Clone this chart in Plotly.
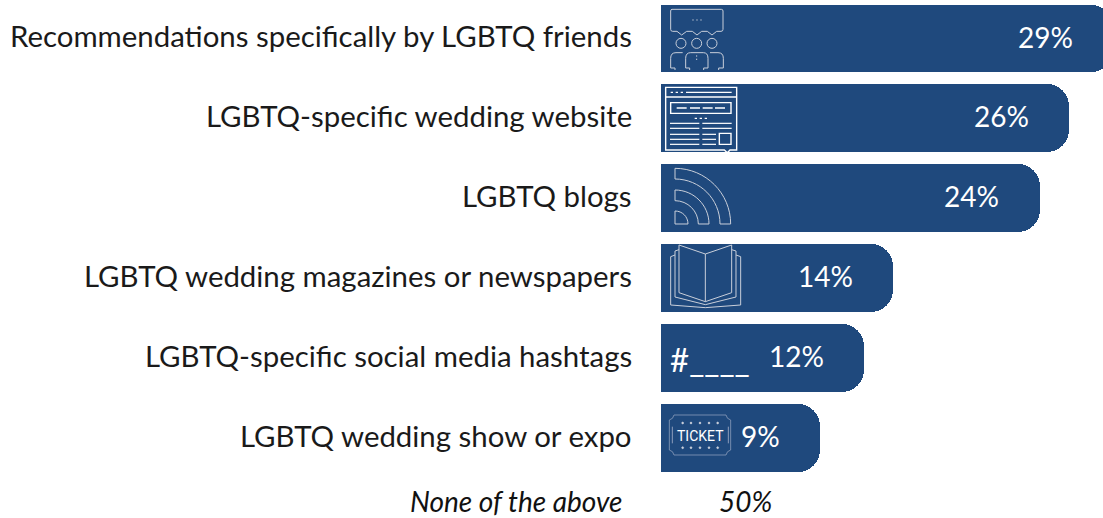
import re
import plotly.graph_objects as go

categories = ["Recommendations specifically by LGBTQ friends", "LGBTQ-specific wedding website",
              "LGBTQ blogs", "LGBTQ wedding magazines or newspapers",
              "LGBTQ-specific social media hashtags", "LGBTQ wedding show or expo"]
values = [29, 26, 24, 14, 12, 9]
none_label = "None of the above"
none_value = 50

W, H = 1103, 518
FONT = "Lato"
BAR = "#1F497D"
OFFSET = 1.84  # the source bars start a little before their zero


def px_path(d, ox=0, oy=0, k=1.0):
    toks = re.findall(r"[MLCQZ]|-?\d+\.?\d*", d)
    out, is_x = [], True
    for t in toks:
        if t in "MLCQZ":
            out.append(t)
            is_x = True
        elif is_x:
            out.append(f"{(ox + float(t) * k) / W:.5f}")
            is_x = False
        else:
            out.append(f"{1 - (oy + float(t) * k) / H:.5f}")
            is_x = True
    s = ""
    for o in out:
        s += o if o in "MLCQZ" else o + " "
    return s


shapes = []


def add(d, ox, oy, color="#FFFFFF", width=1.0, fill=None):
    sh = dict(type="path", xref="paper", yref="paper", path=px_path(d, ox, oy, 1 / 3),
              line=dict(color=color, width=width))
    if fill:
        sh["fillcolor"] = fill
    shapes.append(sh)


def circle(cx, cy, r):
    c = 0.5523 * r
    return (f"M{cx - r} {cy} C{cx - r} {cy - c} {cx - c} {cy - r} {cx} {cy - r} "
            f"C{cx + c} {cy - r} {cx + r} {cy - c} {cx + r} {cy} "
            f"C{cx + r} {cy + c} {cx + c} {cy + r} {cx} {cy + r} "
            f"C{cx - c} {cy + r} {cx - r} {cy + c} {cx - r} {cy} Z")


# --- icon: people with a speech box
G = "#C9CFDA"
add("M66 28 L214 28 Q219 28 219 33 L219 88 Q219 94 213 94 L200 94 L186 105 L172 94 L155 94 L141 105 L127 94 "
    "L110 94 L95 105 L81 94 L68 94 Q62 94 62 88 L62 33 Q62 28 66 28 Z", 650, 0, G)
for cx in (93, 140, 186):
    add(circle(cx, 130, 15), 650, 0, G)
add("M127 60 L131 60 M139 60 L143 60 M151 60 L155 60", 650, 0, G)
add("M98 158 L78 158 Q62 158 62 175 L62 204 L75 204 L75 210", 650, 0, G)
add("M180 158 L204 158 Q220 158 220 175 L220 204 L206 204 L206 210", 650, 0, G)
add("M119 210 L119 204 L107 204 L107 175 Q107 158 122 158 L160 158 Q174 158 174 175 L174 204 L161 204 L161 210", 650, 0, G)
add("M140 166 L140 170 M140 176 L140 180", 650, 0, G)

# --- icon: website
add("M47 262 L260 262 L260 450 L240 450 L232 458 L223 450 L47 450 Z", 650, 0, width=1.4)
add("M47 291 L260 291", 650, 0, width=1.4)
add("M62 277 L69 277 M77 277 L84 277 M92 277 L99 277 M108 277 L245 277", 650, 0, width=1.4)
add("M62 308 L243 308 L243 340 L62 340 Z", 650, 0, width=1.4)
add("M80 324 L110 324 M120 324 L150 324 M158 324 L188 324 M195 324 L225 324", 650, 0, width=1.4)
add("M134 355 L141 355 M149 355 L156 355 M164 355 L171 355", 650, 0, width=1.4)
for y in (370, 385, 403, 418, 433):
    add(f"M60 {y} L148 {y}", 650, 0, width=1.2)
for y in (370, 385):
    add(f"M157 {y} L245 {y}", 650, 0, width=1.2)
for y in (403, 418, 433):
    add(f"M157 {y} L198 {y}", 650, 0, width=1.2)
add("M208 400 L243 400 L243 433 L208 433 Z", 650, 0, width=1.4)


# --- icon: RSS waves
def band(ro, ri, cx=75, cy=672):
    ko, ki = 0.5523 * ro, 0.5523 * ri
    return (f"M{cx} {cy - ro} C{cx + ko} {cy - ro} {cx + ro} {cy - ko} {cx + ro} {cy} "
            f"L{cx + ri} {cy} C{cx + ri} {cy - ki} {cx + ki} {cy - ri} {cx} {cy - ri} Z")


add(band(167, 135), 650, 0, G)
add(band(102, 70), 650, 0, G)
add("M75 633 C97 633 114 650 114 672 L75 672 Z", 650, 0, G)

# --- icon: open book
add("M87 15 L166 42 L245 15 L245 158 L166 185 L87 158 Z", 650, 240, G)
add("M166 42 L166 185", 650, 240, G)
add("M87 29 L75 33 L75 171 L166 194 L258 171 L258 33 L245 29", 650, 240, G)
add("M75 45 L62 50 L62 195 L166 203 L272 195 L272 50 L258 45", 650, 240, G)

# --- icon: ticket
T = "#8C9DBB"
add("M72 525 L228 525 Q230 537 242 540 L242 630 Q230 633 228 645 L72 645 Q70 633 58 630 L58 540 Q70 537 72 525 Z",
    650, 240, T, 0.8)
add("M67 560 L67 610 M235 560 L235 610", 650, 240, T, 1.0)
for y in (549, 623):
    for x in (98, 123, 150, 177, 203):
        add(circle(x, y, 3), 650, 240, "#C9CFDA", 0.5, fill="#C9CFDA")

fig = go.Figure()
fig.add_bar(y=categories, x=[v + OFFSET for v in values], orientation="h",
            width=0.85, marker=dict(color=BAR, cornerradius=22, line=dict(width=0)),
            hoverinfo="skip", showlegend=False)

annotations = []
for c, v in zip(categories, values):
    annotations.append(dict(x=v - 0.76, y=c, xref="x", yref="y", text=f"{v}%", showarrow=False,
                            xanchor="right", yanchor="middle", yshift=2,
                            font=dict(family=FONT, size=28, color="white")))
    annotations.append(dict(x=633 / W, y=c, xref="paper", yref="y", text=c, showarrow=False,
                            xanchor="right", yanchor="middle", yshift=3, borderpad=0,
                            font=dict(family=FONT, size=29.4, color="#1a1a1a")))
annotations += [
    dict(x=624 / W, y=1 - 501 / H, xref="paper", yref="paper", text=f"<i>{none_label}</i>", showarrow=False,
         xanchor="right", yanchor="middle", font=dict(family=FONT, size=28, color="#111111")),
    dict(x=745 / W, y=1 - 501 / H, xref="paper", yref="paper", text=f"<i>{none_value}%</i>", showarrow=False,
         xanchor="center", yanchor="middle", font=dict(family=FONT, size=28, color="#111111")),
    dict(x=668 / W, y=1 - 359 / H, xref="paper", yref="paper", text="#____", showarrow=False,
         xanchor="left", yanchor="middle", font=dict(family=FONT, size=33, color="white")),
    dict(x=700 / W, y=1 - 436 / H, xref="paper", yref="paper", text="TICKET", showarrow=False,
         xanchor="center", yanchor="middle",
         font=dict(family="Liberation Sans Narrow, Roboto", size=14, color="white")),
]

fig.update_layout(
    width=W, height=H, margin=dict(l=0, r=0, t=0, b=0), paper_bgcolor="white", plot_bgcolor="white",
    bargap=0, showlegend=False, shapes=shapes, annotations=annotations,
    xaxis=dict(domain=[661 / W, 1], range=[0, 30.17], visible=False),
    yaxis=dict(categoryorder="array", categoryarray=categories, range=[6.0, -0.482], showgrid=False,
               showline=False, zeroline=False, automargin=False, showticklabels=False, ticks=""),
)
fig.write_html("out.html", config={"displayModeBar": False},
               post_script="document.body.style.margin='0';document.body.style.overflow='hidden';")
